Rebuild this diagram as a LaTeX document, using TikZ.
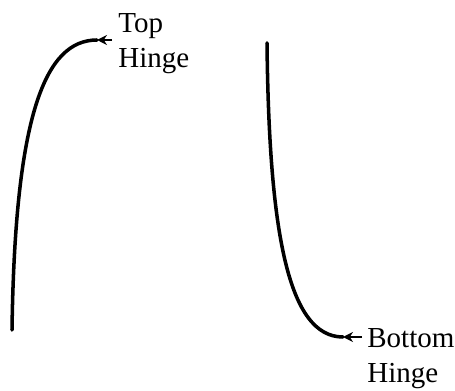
\documentclass[tikz,border=0pt]{standalone}
\usepackage{fontspec}
\setmainfont{Liberation Serif}
\usepackage{tikz}
\usetikzlibrary{arrows.meta,positioning}

\begin{document}
\begin{tikzpicture}[
  hinge/.style={line width=2pt, line cap=round},
  lbl/.style={inner sep=0pt, align=left, font=\fontsize{16.5}{20}\selectfont},
  arr/.style={-{Stealth[length=2mm, width=2mm]}, line width=1.4pt}
]
\useasboundingbox (0,0) rectangle (9.1,7.8);
% top hinge curve
\coordinate (topstart) at (0.24,1.2);
\coordinate (topend) at (1.94,7.0);
\draw[hinge] (topstart) .. controls (0.3,5.5) and (0.9,7.0) .. (topend);
% bottom hinge curve
\coordinate (botstart) at (5.34,6.94);
\coordinate (botend) at (6.86,1.06);
\draw[hinge] (botstart) .. controls (5.38,3.2) and (5.75,1.06) .. (botend);
% labels
\node[lbl, anchor=north west] (toplbl) at (2.36,7.54) {Top\\Hinge};
\node[lbl, anchor=north west] (botlbl) at (7.34,1.24) {Bottom\\Hinge};
\coordinate (toptail) at (2.24,7.0);
\coordinate (bottail) at (7.24,1.06);
\draw[arr] (toptail) -- (topend);
\draw[arr] (bottail) -- (botend);
\end{tikzpicture}
\end{document}
